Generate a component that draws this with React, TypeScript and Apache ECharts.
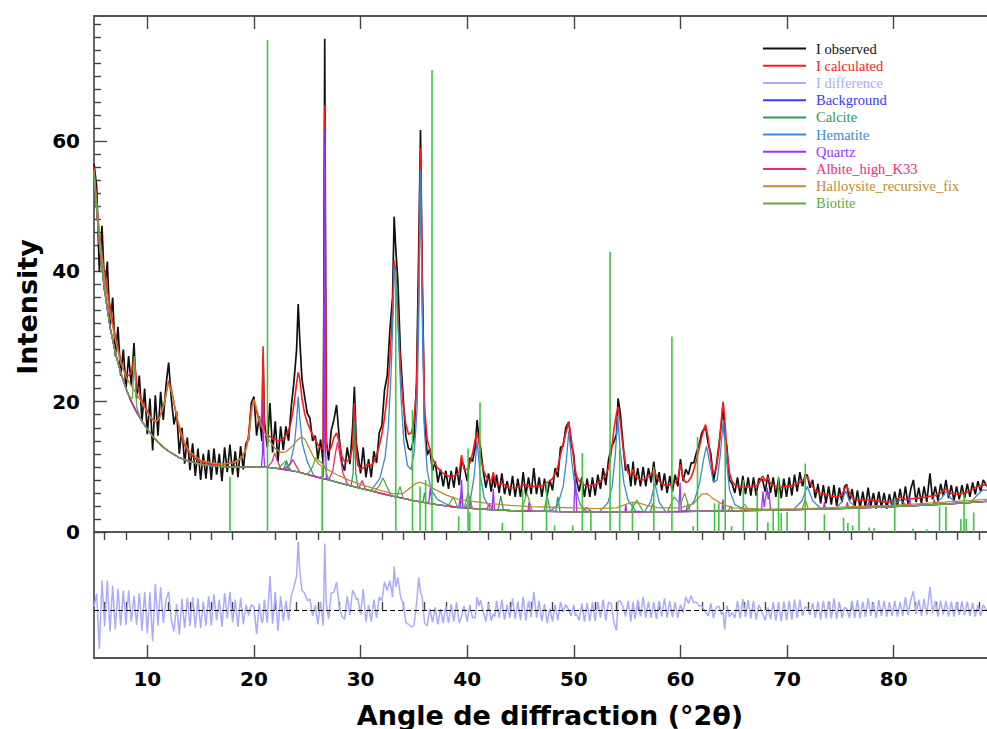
import React, { useEffect, useRef } from 'react';
import * as echarts from 'echarts';

// angle (°2θ), I observed, I calculated
const PATTERN: number[][] = [
  [5.00, 56.5, 56.0], [5.25, 53.0, 50.5], [5.50, 40.0, 46.0], [5.75, 47.0, 42.5], [6.00, 37.0, 39.5],
  [6.25, 41.5, 37.0], [6.50, 31.5, 34.8], [6.75, 36.0, 32.3], [7.00, 27.0, 30.0], [7.25, 31.5, 28.2],
  [7.50, 24.0, 26.4], [7.75, 28.0, 25.0], [8.00, 22.0, 24.3], [8.25, 27.0, 24.0], [8.50, 22.5, 24.3],
  [8.75, 29.0, 26.8], [9.00, 20.5, 22.8], [9.25, 24.0, 21.4], [9.50, 17.0, 20.2], [9.75, 22.0, 19.2],
  [10.00, 15.0, 18.6], [10.25, 20.5, 17.8], [10.50, 12.5, 17.3], [10.75, 21.0, 17.0], [11.00, 14.8, 17.2],
  [11.25, 21.5, 18.0], [11.50, 17.2, 19.2], [11.75, 22.5, 21.0], [12.00, 26.0, 23.2], [12.25, 20.5, 22.0],
  [12.50, 16.5, 19.8], [12.75, 18.5, 17.6], [13.00, 12.0, 15.8], [13.25, 16.0, 14.3], [13.50, 10.5, 13.3],
  [13.75, 14.5, 12.6], [14.00, 9.5, 12.0], [14.25, 13.6, 11.6], [14.50, 8.6, 11.3], [14.75, 12.8, 11.0],
  [15.00, 8.0, 10.8], [15.25, 12.0, 10.7], [15.50, 8.2, 10.6], [15.75, 12.6, 10.5], [16.00, 8.0, 10.4],
  [16.25, 12.8, 10.4], [16.50, 8.8, 10.4], [16.75, 12.0, 10.4], [17.00, 7.8, 10.4], [17.25, 13.0, 10.4],
  [17.50, 9.2, 10.5], [17.75, 13.4, 10.6], [18.00, 8.8, 10.7], [18.25, 12.4, 10.8], [18.50, 8.4, 11.0],
  [18.75, 13.2, 11.3], [19.00, 9.6, 11.8], [19.25, 13.6, 12.8], [19.50, 14.2, 15.0], [19.75, 19.8, 19.0],
  [20.00, 20.8, 20.3], [20.25, 14.8, 18.5], [20.50, 17.8, 16.8], [20.75, 14.0, 16.0], [20.86, 27.0, 28.5],
  [20.97, 17.2, 15.6], [21.25, 13.0, 15.0], [21.50, 19.8, 14.6], [21.75, 12.2, 14.3], [22.00, 17.0, 14.2],
  [22.25, 10.8, 14.0], [22.50, 16.2, 14.1], [22.75, 12.6, 14.3], [23.00, 16.2, 14.8], [23.25, 14.0, 15.6],
  [23.50, 19.2, 17.0], [23.75, 23.0, 19.5], [24.00, 28.0, 22.8], [24.15, 35.0, 24.5], [24.30, 29.5, 23.5],
  [24.50, 23.5, 20.5], [24.75, 20.8, 18.2], [25.00, 18.2, 16.8], [25.25, 17.5, 15.8], [25.50, 14.0, 14.9],
  [25.75, 14.8, 14.1], [26.00, 11.2, 13.4], [26.25, 14.2, 12.9], [26.50, 10.4, 12.8], [26.64, 75.7, 65.5],
  [26.78, 14.2, 13.0], [27.00, 11.0, 12.4], [27.25, 15.6, 13.0], [27.50, 17.2, 14.5], [27.75, 19.5, 15.2],
  [28.00, 14.4, 13.8], [28.25, 10.6, 11.6], [28.50, 9.4, 10.8], [28.75, 13.0, 10.9], [29.00, 10.4, 11.2],
  [29.25, 16.0, 13.0], [29.42, 22.3, 19.8], [29.60, 13.6, 12.0], [29.75, 12.0, 10.2], [30.00, 9.0, 9.7],
  [30.25, 13.0, 9.8], [30.50, 8.4, 10.2], [30.75, 11.2, 10.4], [31.00, 8.4, 10.2], [31.25, 12.4, 10.8],
  [31.50, 10.6, 11.8], [31.75, 15.2, 13.2], [32.00, 16.4, 15.0], [32.25, 21.8, 17.5], [32.50, 24.0, 21.0],
  [32.75, 31.0, 26.5], [33.00, 36.0, 34.0], [33.15, 48.4, 41.7], [33.30, 43.5, 40.0], [33.50, 38.5, 33.5],
  [33.75, 27.0, 25.0], [34.00, 20.5, 19.5], [34.25, 14.6, 16.5], [34.50, 12.8, 15.0], [34.75, 12.6, 15.2],
  [35.00, 14.4, 16.8], [35.25, 23.0, 22.0], [35.45, 43.0, 38.0], [35.62, 61.7, 59.0], [35.78, 40.0, 38.0],
  [36.00, 17.0, 19.0], [36.25, 11.8, 14.2], [36.50, 12.8, 12.6], [36.75, 9.4, 11.3], [37.00, 10.8, 10.4],
  [37.25, 7.6, 9.8], [37.50, 9.6, 9.4], [37.75, 7.0, 9.0], [38.00, 9.4, 8.8], [38.25, 6.6, 8.6],
  [38.50, 9.4, 8.5], [38.75, 6.8, 8.6], [39.00, 10.0, 8.8], [39.25, 7.2, 9.2], [39.47, 10.8, 11.8],
  [39.70, 10.2, 9.6], [40.00, 7.8, 9.6], [40.25, 11.4, 10.6], [40.50, 10.8, 12.0], [40.75, 13.0, 14.2],
  [40.93, 17.2, 15.2], [41.10, 14.4, 13.8], [41.25, 13.0, 11.5], [41.50, 9.4, 9.6], [41.75, 6.8, 8.6],
  [42.00, 9.0, 8.0], [42.25, 6.2, 7.8], [42.45, 8.6, 9.2], [42.60, 6.8, 7.8], [42.75, 8.8, 7.4],
  [43.00, 6.0, 7.2], [43.25, 9.0, 7.4], [43.50, 5.8, 7.3], [43.75, 7.8, 7.0], [44.00, 5.6, 6.8],
  [44.25, 8.6, 6.8], [44.50, 5.4, 6.8], [44.75, 8.2, 6.9], [45.00, 5.4, 7.0], [45.25, 9.2, 7.2],
  [45.50, 5.6, 7.2], [45.75, 8.4, 7.0], [46.00, 5.8, 6.9], [46.25, 9.8, 7.0], [46.50, 5.8, 7.0],
  [46.75, 8.4, 7.0], [47.00, 5.4, 7.1], [47.25, 8.2, 7.3], [47.50, 5.6, 7.6], [47.75, 8.0, 7.8],
  [48.00, 6.4, 8.2], [48.25, 9.8, 9.0], [48.50, 8.4, 10.0], [48.75, 13.0, 11.8], [49.00, 13.2, 13.5],
  [49.25, 16.0, 15.2], [49.53, 16.9, 16.9], [49.75, 13.6, 14.5], [50.00, 11.8, 11.0], [50.14, 8.6, 9.5],
  [50.25, 8.0, 8.6], [50.50, 6.2, 7.8], [50.75, 8.4, 7.4], [51.00, 5.4, 7.2], [51.25, 8.2, 7.1],
  [51.50, 5.4, 7.1], [51.75, 8.4, 7.2], [52.00, 5.6, 7.3], [52.25, 8.8, 7.5], [52.50, 6.6, 7.8],
  [52.75, 9.8, 8.2], [53.00, 7.2, 8.8], [53.25, 11.0, 9.8], [53.50, 13.0, 12.0], [53.75, 13.8, 15.6],
  [54.00, 15.0, 18.2], [54.15, 20.5, 19.2], [54.35, 18.4, 17.0], [54.60, 13.8, 13.2], [54.85, 9.4, 10.4],
  [55.10, 10.4, 9.0], [55.35, 7.0, 8.8], [55.56, 10.8, 9.6], [55.75, 7.2, 8.6], [56.00, 9.8, 8.2],
  [56.25, 7.0, 8.0], [56.50, 10.0, 8.0], [56.75, 7.0, 8.2], [57.00, 9.8, 8.5], [57.25, 7.6, 8.8],
  [57.50, 10.8, 9.6], [57.75, 7.2, 8.6], [58.00, 9.2, 7.8], [58.25, 6.4, 7.4], [58.50, 9.0, 7.2],
  [58.75, 6.0, 7.2], [59.00, 8.6, 7.2], [59.25, 6.2, 7.3], [59.50, 8.8, 7.6], [59.75, 7.0, 8.2],
  [60.00, 11.2, 10.4], [60.25, 7.8, 8.2], [60.50, 9.6, 7.6], [60.75, 8.8, 7.8], [61.00, 10.6, 8.4],
  [61.25, 10.6, 9.5], [61.50, 12.2, 11.0], [61.75, 13.4, 12.8], [62.00, 15.2, 14.6], [62.35, 16.2, 16.5],
  [62.60, 13.6, 14.5], [62.85, 12.0, 11.0], [63.10, 7.8, 9.0], [63.35, 10.0, 9.6], [63.60, 13.2, 12.6],
  [63.85, 16.8, 17.5], [64.00, 19.7, 20.0], [64.15, 14.5, 17.5], [64.35, 13.2, 12.5], [64.60, 8.0, 9.0],
  [64.85, 7.4, 7.8], [65.10, 6.0, 7.2], [65.35, 8.4, 7.0], [65.60, 5.6, 6.9], [65.85, 8.6, 6.9],
  [66.10, 5.8, 6.9], [66.35, 8.4, 6.9], [66.60, 5.6, 6.9], [66.85, 8.4, 7.0], [67.10, 5.6, 7.1],
  [67.35, 8.2, 7.4], [67.70, 8.0, 8.6], [67.95, 6.2, 7.8], [68.20, 8.8, 8.4], [68.45, 6.0, 7.4],
  [68.70, 8.4, 7.2], [68.95, 5.4, 7.0], [69.20, 8.2, 7.0], [69.45, 5.2, 6.9], [69.70, 8.2, 6.9],
  [69.95, 5.4, 7.0], [70.20, 8.4, 7.0], [70.45, 5.6, 7.1], [70.70, 8.8, 7.2], [70.95, 6.2, 7.4],
  [71.20, 9.2, 7.6], [71.45, 7.0, 7.9], [71.70, 8.8, 8.3], [71.90, 8.7, 8.4], [72.15, 6.8, 7.6],
  [72.40, 8.0, 6.9], [72.65, 5.2, 6.4], [72.90, 7.4, 6.1], [73.15, 4.4, 5.9], [73.40, 7.2, 5.8],
  [73.65, 4.4, 5.7], [73.90, 7.0, 5.6], [74.15, 4.2, 5.5], [74.40, 7.2, 5.4], [74.65, 4.0, 5.4],
  [74.90, 6.8, 5.5], [75.15, 4.6, 5.8], [75.40, 7.0, 6.6], [75.60, 7.3, 7.1], [75.85, 4.8, 6.0],
  [76.10, 6.6, 5.2], [76.35, 3.8, 5.0], [76.60, 6.4, 4.9], [76.85, 3.6, 4.9], [77.10, 6.2, 4.9],
  [77.35, 3.8, 4.9], [77.60, 6.8, 5.0], [77.85, 4.0, 4.9], [78.10, 6.0, 4.8], [78.35, 3.6, 4.8],
  [78.60, 6.2, 4.7], [78.85, 3.8, 4.7], [79.10, 6.0, 4.6], [79.35, 3.6, 4.6], [79.60, 5.8, 4.6],
  [79.85, 3.8, 4.7], [80.10, 6.2, 4.8], [80.35, 4.0, 5.0], [80.60, 6.6, 5.4], [80.85, 4.2, 5.1],
  [81.10, 7.0, 5.0], [81.35, 4.2, 5.0], [81.60, 6.6, 5.1], [81.85, 8.0, 5.1], [82.10, 4.6, 5.2],
  [82.35, 6.8, 5.2], [82.60, 4.4, 5.3], [82.85, 7.0, 5.3], [83.10, 4.6, 5.4], [83.40, 9.0, 5.5],
  [83.65, 5.0, 5.5], [83.90, 7.0, 5.6], [84.15, 4.8, 5.8], [84.40, 7.4, 6.0], [84.65, 5.6, 6.3],
  [84.90, 8.0, 6.6], [85.15, 5.2, 6.2], [85.40, 7.2, 5.9], [85.65, 4.8, 5.8], [85.90, 7.0, 5.8],
  [86.15, 5.0, 5.8], [86.40, 7.2, 5.9], [86.65, 5.2, 6.0], [86.90, 7.4, 6.1], [87.15, 5.4, 6.3],
  [87.40, 7.6, 6.5], [87.65, 5.8, 6.8], [87.90, 7.8, 7.0], [88.15, 6.2, 7.1], [88.40, 8.0, 7.2],
  [88.75, 7.0, 7.2],
];

const BACKGROUND: number[][] = [
  [5, 55], [5.25, 49.5], [5.5, 44.5], [5.75, 40.5], [6, 37], [6.5, 31.5], [7, 27.5], [7.5, 24.5], [8, 22],
  [8.5, 20], [9, 18.4], [9.5, 17], [10, 15.8], [10.5, 14.7], [11, 13.8], [11.5, 13], [12, 12.4], [13, 11.4],
  [14, 10.8], [15, 10.4], [16, 10.2], [17, 10.05], [18, 10], [19, 10], [20, 10], [21, 9.95], [22, 9.8],
  [23, 9.55], [24, 9.25], [25, 8.85], [26, 8.4], [27, 8], [28, 7.55], [29, 7.1], [30, 6.7], [31, 6.3],
  [32, 5.9], [33, 5.5], [34, 5.15], [35, 4.8], [36, 4.5], [37, 4.25], [38, 4], [39, 3.8], [40, 3.65],
  [42, 3.45], [44, 3.3], [46, 3.2], [50, 3.1], [55, 3.1], [60, 3.15], [65, 3.25], [70, 3.4], [75, 3.6],
  [80, 3.9], [85, 4.3], [88.75, 4.7],
];

const CALCITE_PEAKS: number[][][] = [
  [[22.8, 9.6], [23.05, 11], [23.3, 9.5]],
  [[29.1, 7.05], [29.3, 9], [29.42, 17], [29.55, 9], [29.75, 6.9]],
  [[35.85, 4.55], [36.0, 6], [36.15, 4.45]],
  [[39.2, 3.75], [39.4, 5.8], [39.6, 3.72]],
  [[42.9, 3.38], [43.15, 5.5], [43.4, 3.36]],
  [[47.2, 3.18], [47.5, 5.5], [47.8, 3.17]],
  [[48.3, 3.16], [48.5, 5.4], [48.7, 3.15]],
  [[57.2, 3.12], [57.4, 4.4], [57.6, 3.13]],
  [[60.5, 3.15], [60.7, 4.3], [60.9, 3.16]],
  [[64.5, 3.24], [64.7, 4.0], [64.9, 3.25]],
];

const HEMATITE_PEAKS: number[][][] = [
  [[22.8, 9.6], [23.4, 10.5], [23.8, 13.5], [24.0, 17], [24.15, 20.8], [24.3, 17.5], [24.55, 13.5], [25.0, 10.8], [25.6, 8.7]],
  [[31.0, 6.4], [31.8, 8.2], [32.3, 11.5], [32.6, 16], [32.85, 24], [33.0, 31], [33.17, 40.7], [33.35, 38], [33.55, 30],
   [33.8, 20.5], [34.05, 14], [34.4, 10.2], [34.75, 9.6], [35.05, 12.5], [35.3, 19], [35.47, 34], [35.62, 55.5],
   [35.78, 34], [35.98, 16], [36.25, 9.5], [36.6, 6.5], [37.2, 5.0], [38.0, 4.3], [38.8, 3.85]],
  [[39.8, 3.7], [40.3, 5], [40.65, 8.5], [40.93, 14], [41.2, 9], [41.6, 5.2], [42.2, 3.45]],
  [[47.8, 3.2], [48.5, 4.2], [49.0, 7], [49.3, 11], [49.53, 15.5], [49.8, 11], [50.1, 7], [50.6, 4.2], [51.2, 3.2]],
  [[52.4, 3.1], [53.2, 4.5], [53.6, 7], [53.9, 12], [54.12, 17.8], [54.35, 12.5], [54.7, 7.5], [55.1, 4.8], [55.8, 3.2]],
  [[56.6, 3.1], [57.2, 4.6], [57.6, 7.5], [58.0, 4.6], [58.6, 3.13]],
  [[60.5, 3.2], [61.3, 4.8], [61.8, 7.5], [62.15, 11], [62.45, 13.2], [62.75, 10.5], [63.1, 7.6], [63.45, 8],
   [63.75, 12], [64.02, 17.2], [64.25, 12], [64.6, 6.5], [65.1, 4.2], [66.2, 3.3]],
  [[70.6, 3.42], [71.4, 4.8], [71.9, 7.0], [72.4, 4.8], [73.2, 3.53]],
  [[74.6, 3.58], [75.1, 4.6], [75.5, 6.3], [75.9, 4.6], [76.5, 3.7]],
  [[79.8, 3.9], [80.6, 4.9], [81.3, 3.98]],
  [[83.8, 4.2], [84.5, 5.2], [84.95, 6.2], [85.4, 5.1], [86.0, 4.4]],
  [[87.2, 4.5], [87.9, 5.8], [88.4, 6.5], [88.75, 6.4]],
];

const QUARTZ_PEAKS: number[][][] = [
  [[20.7, 10], [20.8, 12], [20.86, 20.3], [20.93, 12], [21.0, 9.95]],
  [[26.5, 8.5], [26.58, 14], [26.64, 61.7], [26.7, 14], [26.8, 8.3]],
  [[36.4, 4.55], [36.54, 6.8], [36.7, 4.4]],
  [[39.35, 3.75], [39.47, 8.0], [39.6, 3.72]],
  [[40.2, 3.63], [40.3, 5.3], [40.4, 3.62]],
  [[42.35, 3.42], [42.45, 6.6], [42.55, 3.41]],
  [[45.7, 3.22], [45.8, 4.6], [45.9, 3.21]],
  [[50.0, 3.1], [50.14, 8.6], [50.28, 3.1]],
  [[54.8, 3.1], [54.87, 4.3], [54.95, 3.1]],
  [[59.85, 3.15], [59.96, 7.6], [60.08, 3.15]],
  [[63.9, 3.23], [63.99, 5], [64.08, 3.23]],
  [[67.6, 3.35], [67.74, 6.2], [67.85, 3.8], [68.14, 6.8], [68.22, 5], [68.31, 6.2], [68.45, 3.36]],
  [[73.4, 3.54], [73.5, 4.6], [73.6, 3.54]],
  [[75.55, 3.62], [75.66, 4.6], [75.77, 3.63]],
  [[77.55, 3.75], [77.65, 4.7], [77.75, 3.76]],
  [[79.8, 3.88], [79.9, 5.0], [80.0, 3.9]],
  [[81.4, 3.98], [81.5, 5.3], [81.6, 3.99]],
  [[83.7, 4.2], [83.8, 5.0], [83.9, 4.2]],
];

const ALBITE_PEAKS: number[][][] = [
  [[21.3, 9.95], [21.7, 10.8], [21.95, 12.1], [22.2, 10.9], [22.5, 9.75]],
  [[23.0, 9.55], [23.4, 10.4], [23.65, 11.1], [23.9, 10.3], [24.3, 9.15]],
  [[27.0, 8.0], [27.4, 9.4], [27.65, 12.2], [27.85, 13.8], [28.05, 12], [28.35, 9.0], [28.8, 7.2]],
  [[29.85, 6.75], [30.15, 7.9], [30.45, 6.6]],
  [[41.8, 3.48], [42.1, 4.3], [42.4, 3.45]],
  [[50.8, 3.1], [51.2, 3.8], [51.6, 3.1]],
];

const HALLOYSITE: number[][] = [
  [5, 55.5], [5.5, 45.5], [6, 38.5], [6.5, 33.5], [7, 29.5], [7.5, 26], [8, 23.8], [8.5, 22.4], [9, 21.2],
  [9.5, 19.8], [10, 18.3], [10.5, 17.2], [10.8, 16.9], [11.2, 17.6], [11.6, 19.8], [11.95, 22.8], [12.3, 21.4],
  [12.8, 17.6], [13.2, 15.2], [13.6, 13.4], [14, 12.3], [15, 11], [16, 10.6], [17, 10.4], [18, 10.6],
  [18.8, 11.3], [19.3, 12.8], [19.6, 15.5], [19.85, 19.3], [20.0, 20.3], [20.2, 19.3], [20.6, 16.8],
  [21, 15.2], [21.5, 13.9], [22, 12.8], [22.5, 12.2], [23, 12.3], [23.5, 13], [24, 14], [24.45, 14.6],
  [24.8, 14.2], [25.2, 12.8], [25.6, 11.5], [26.1, 10.4], [27, 9.5], [28, 8.6], [29, 7.9], [30, 7.3],
  [31, 6.8], [32, 6.3], [33, 5.9], [34, 5.9], [34.6, 6.7], [35.2, 7.5], [35.6, 7.6], [36.2, 7.3], [37, 6.5],
  [38, 5.7], [39, 5.1], [40, 4.8], [41, 4.6], [42, 4.4], [44, 4.1], [46, 3.9], [48, 3.8], [50, 3.7],
  [52, 3.6], [54, 3.7], [55, 4.3], [55.5, 4.6], [56.2, 4.4], [57, 4.0], [58, 3.7], [60, 3.7], [61.2, 4.3],
  [62.0, 5.8], [62.5, 5.9], [63.0, 5.2], [64, 4.2], [65, 3.7], [68, 3.5], [72, 3.6], [76, 3.9], [80, 4.1],
  [84, 4.5], [88.75, 5.0],
];

const BIOTITE_PEAKS: number[][][] = [
  [[8.3, 20.8], [8.6, 20.5], [8.8, 27.0], [9.0, 19.2], [9.3, 17.6]],
  [[22.3, 9.75], [22.9, 10.8], [23.5, 9.45]],
  [[25.0, 8.8], [25.5, 10], [25.8, 11.4], [26.2, 10.8], [26.6, 10.2], [27.0, 8.0]],
  [[31.3, 6.2], [31.8, 7.2], [32.1, 8.3], [32.4, 7.2], [32.9, 5.55]],
  [[33.4, 5.35], [33.7, 7.0], [34.0, 5.15]],
  [[38.2, 3.95], [38.7, 5.4], [39.1, 3.78]],
  [[39.7, 3.67], [40.1, 6.0], [40.5, 3.6]],
  [[45.1, 3.25], [45.6, 6.0], [46.1, 3.2]],
  [[55.3, 3.1], [55.9, 4.9], [56.5, 3.1]],
  [[58.8, 3.15], [59.4, 5.4], [60.0, 4.2], [60.4, 6.0], [60.9, 3.16]],
  [[65.6, 3.26], [66.0, 4.3], [66.4, 3.28]],
  [[71.4, 3.45], [71.7, 5.0], [72.0, 3.46]],
];

// reference reflection positions (°2θ, intensity)
const STICKS: number[][] = [
  [17.75, 8.5], [21.27, 75.5], [26.4, 10], [33.3, 40], [34.87, 18.7], [35.58, 7], [36.1, 8], [36.7, 70.9],
  [39.2, 2.4], [40.08, 12.8], [40.24, 3], [41.2, 19.9], [43.3, 1.4], [45.2, 6.5], [47.44, 7.6], [48.2, 1],
  [49.9, 1], [50.8, 12.1], [51.6, 3.4], [53.4, 43], [54.3, 12.8], [55.5, 4.5], [57.5, 10], [59.2, 30],
  [61.2, 0.9], [61.6, 14.6], [63.2, 4.4], [63.6, 4.4], [64.2, 14.2], [64.8, 0.9], [65.9, 8], [67.2, 6.4],
  [68.2, 1.5], [68.7, 3.3], [69.2, 8.5], [69.45, 2.9], [70.0, 3.1], [71.7, 10.5], [73.5, 2.7], [75.3, 2.2],
  [75.7, 1.4], [76.15, 1.0], [76.75, 3.8], [77.7, 0.7], [78.15, 0.6], [80.1, 5.2], [81.8, 0.5], [83.1, 0.4],
  [84.3, 3.9], [84.9, 3.9], [86.3, 2], [86.6, 5.8], [86.8, 2], [87.5, 3],
];

const X_MAJOR = [10, 20, 30, 40, 50, 60, 70, 80];
const X_MINOR = [6, 8, 12, 14, 16, 18, 22, 24, 26, 28, 32, 34, 36, 38, 42, 44, 46, 48, 52, 54, 56, 58,
  62, 64, 66, 68, 72, 74, 76, 78, 82, 84, 86, 88];
const Y_MAJOR = [0, 20, 40, 60];
const Y_MINOR = [2, 4, 6, 8, 10, 12, 14, 16, 18, 22, 24, 26, 28, 30, 32, 34, 36, 38, 42, 44, 46, 48, 50,
  52, 54, 56, 58, 62, 64, 66, 68, 70, 72, 74, 76, 78];

const NAMES = ['I observed', 'I calculated', 'I difference', 'Background', 'Calcite', 'Hematite', 'Quartz',
  'Albite_high_K33', 'Halloysite_recursive_fix', 'Biotite'];
const COLORS = ['#111111', '#ff1a1a', '#aaaaff', '#3a3aff', '#2f9a50', '#3d88d2', '#9b30ff', '#f0287a',
  '#c08a32', '#62a844'];
const STICK_COLOR = '#3ec43e';

const X_MIN = 5;
const X_MAX = 88.75;
const Y_MAX = 79.2;
const DIFF_MIN = -7.37;
const DIFF_MAX = 11.97;

function phaseCurve(segments: number[][][]): number[][] {
  const inside = (x: number) => segments.some((s) => x >= s[0][0] && x <= s[s.length - 1][0]);
  const pts = BACKGROUND.filter((p) => !inside(p[0])).concat(...segments);
  return pts.sort((a, b) => a[0] - b[0]);
}

const AXIS_LINE = { color: '#555', width: 1.8 };
const TICK_LINE = { color: '#444', width: 1.4 };

export default function App() {
  const ref = useRef<HTMLDivElement>(null);
  useEffect(() => {
    if (!ref.current) return;
    const chart = echarts.init(ref.current, undefined, { renderer: 'svg' });
    const lineSeries = (name: string, idx: number, data: number[][], width = 1.3) => ({
      name,
      type: 'line',
      xAxisIndex: 0,
      yAxisIndex: 0,
      data,
      symbol: 'none',
      showSymbol: false,
      silent: true,
      lineStyle: { color: COLORS[idx], width },
      itemStyle: { color: COLORS[idx] },
    });
    const xBase = { type: 'value', min: X_MIN, max: X_MAX, splitLine: { show: false } };
    const option: any = {
      animation: false,
      backgroundColor: '#ffffff',
      grid: [
        { left: 94, right: 0, top: 16, height: 516 },
        { left: 94, right: 0, top: 532, height: 126 },
      ],
      xAxis: [
        { ...xBase, gridIndex: 0, position: 'bottom', axisLine: { show: true, onZero: false, lineStyle: AXIS_LINE },
          axisTick: { show: false }, axisLabel: { show: false } },
        { ...xBase, gridIndex: 0, position: 'top', axisLine: { show: true, onZero: false, lineStyle: AXIS_LINE },
          axisTick: { show: true, inside: true, length: 13, customValues: X_MAJOR, lineStyle: TICK_LINE },
          axisLabel: { show: false } },
        { ...xBase, gridIndex: 0, position: 'top', axisLine: { show: false },
          axisTick: { show: true, inside: true, length: 8, customValues: X_MINOR, lineStyle: TICK_LINE },
          axisLabel: { show: false } },
        { ...xBase, gridIndex: 1, position: 'bottom', axisLine: { show: true, onZero: false, lineStyle: AXIS_LINE },
          axisTick: { show: true, inside: true, length: 13, customValues: X_MAJOR, lineStyle: TICK_LINE },
          axisLabel: { show: true, customValues: X_MAJOR, margin: 11, color: '#000', fontSize: 20,
            fontWeight: 'bold', fontFamily: 'DejaVu Sans' } },
        { ...xBase, gridIndex: 1, position: 'bottom', axisLine: { show: false },
          axisTick: { show: true, inside: true, length: 8, customValues: X_MINOR, lineStyle: TICK_LINE },
          axisLabel: { show: false } },
      ],
      yAxis: [
        { type: 'value', gridIndex: 0, min: 0, max: Y_MAX, position: 'left', splitLine: { show: false },
          axisLine: { show: true, onZero: false, lineStyle: AXIS_LINE },
          axisTick: { show: true, inside: true, length: 13, customValues: Y_MAJOR, lineStyle: TICK_LINE },
          axisLabel: { show: true, customValues: Y_MAJOR, margin: 14, color: '#000', fontSize: 20,
            fontWeight: 'bold', fontFamily: 'DejaVu Sans' } },
        { type: 'value', gridIndex: 0, min: 0, max: Y_MAX, position: 'left', splitLine: { show: false },
          axisLine: { show: false },
          axisTick: { show: true, inside: true, length: 7, customValues: Y_MINOR, lineStyle: TICK_LINE },
          axisLabel: { show: false } },
        { type: 'value', gridIndex: 1, min: DIFF_MIN, max: DIFF_MAX, position: 'left', splitLine: { show: false },
          axisLine: { show: true, onZero: false, lineStyle: AXIS_LINE }, axisTick: { show: false },
          axisLabel: { show: false } },
      ],
      legend: {
        orient: 'vertical',
        left: 763,
        top: 40,
        padding: 0,
        itemGap: 0,
        itemWidth: 43,
        itemHeight: 2,
        icon: 'rect',
        selectedMode: false,
        textStyle: { fontFamily: 'Liberation Serif', fontSize: 14.5, lineHeight: 17.2, padding: [0, 0, 0, 5] },
        data: NAMES.map((n, i) => ({ name: n, textStyle: { color: COLORS[i] } })),
      },
      graphic: [
        { type: 'text', x: 27, y: 307, rotation: Math.PI / 2, silent: true,
          style: { text: 'Intensity', fill: '#000', fontSize: 27, fontWeight: 'bold', fontFamily: 'DejaVu Sans',
            align: 'center', verticalAlign: 'middle' } },
        { type: 'text', x: 550, y: 715, silent: true,
          style: { text: 'Angle de diffraction (°2θ)', fill: '#000', fontSize: 27, fontWeight: 'bold',
            fontFamily: 'DejaVu Sans', align: 'center', verticalAlign: 'middle' } },
      ],
      series: [
        lineSeries(NAMES[0], 0, PATTERN.map((r) => [r[0], r[1]]), 1.7),
        lineSeries(NAMES[1], 1, PATTERN.map((r) => [r[0], r[2]]), 1.6),
        {
          name: NAMES[2], type: 'line', xAxisIndex: 3, yAxisIndex: 2, symbol: 'none', showSymbol: false, silent: true,
          data: PATTERN.map((r) => [r[0], +(r[1] - r[2]).toFixed(2)]),
          lineStyle: { color: COLORS[2], width: 1.5 }, itemStyle: { color: COLORS[2] },
          markLine: { silent: true, symbol: ['none', 'none'], label: { show: false },
            lineStyle: { color: '#000', type: [5, 3], width: 1 }, data: [{ yAxis: 0 }] },
        },
        lineSeries(NAMES[3], 3, BACKGROUND),
        lineSeries(NAMES[4], 4, phaseCurve(CALCITE_PEAKS)),
        lineSeries(NAMES[5], 5, phaseCurve(HEMATITE_PEAKS)),
        lineSeries(NAMES[6], 6, phaseCurve(QUARTZ_PEAKS)),
        lineSeries(NAMES[7], 7, phaseCurve(ALBITE_PEAKS)),
        lineSeries(NAMES[8], 8, HALLOYSITE),
        lineSeries(NAMES[9], 9, phaseCurve(BIOTITE_PEAKS)),
        {
          type: 'custom', xAxisIndex: 0, yAxisIndex: 0, silent: true, z: 5, data: STICKS,
          renderItem: (params: any, api: any) => {
            const p0 = api.coord([api.value(0), 0]);
            const p1 = api.coord([api.value(0), api.value(1)]);
            return { type: 'line', shape: { x1: p0[0], y1: p0[1], x2: p1[0], y2: p1[1] },
              style: { stroke: STICK_COLOR, lineWidth: 1.6 } };
          },
        },
      ],
    };
    chart.setOption(option);
    return () => chart.dispose();
  }, []);
  return <div ref={ref} style={{ position: 'fixed', left: 0, top: 0, width: 987, height: 729, background: '#fff' }} />;
}
